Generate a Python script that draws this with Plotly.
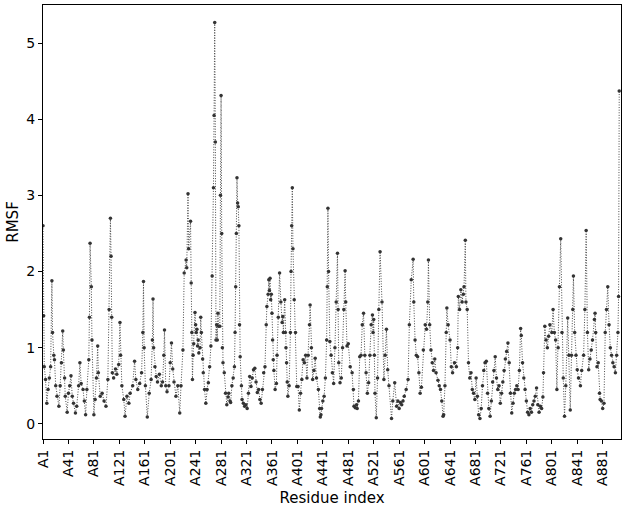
import plotly.graph_objects as go

# residue numbers and RMSF (chain A)
RESIDUE = [
    1, 2, 3, 5, 7, 9, 11, 13, 15, 16,
    18, 19, 21, 23, 26, 28, 30, 32, 33, 35,
    36, 39, 41, 43, 45, 47, 49, 52, 54, 57,
    59, 61, 64, 66, 68, 70, 73, 74, 75, 77,
    78, 81, 83, 85, 87, 88, 91, 94, 97, 100,
    103, 105, 107, 108, 109, 110, 112, 115, 117, 120,
    122, 123, 125, 128, 130, 133, 136, 138, 142, 145,
    147, 150, 153, 156, 158, 159, 160, 162, 165, 168,
    171, 173, 174, 175, 177, 179, 181, 184, 187, 189,
    191, 192, 194, 196, 199, 201, 203, 205, 207, 210,
    213, 216, 218, 221,
    223, 226, 227, 229, 230, 233, 234, 235, 236, 237,
    238, 240, 241, 242, 243, 244, 245, 246, 248, 249,
    250, 252, 253, 255, 257, 259, 261, 263, 265, 267,
    269, 270, 271, 272, 273, 274, 275, 276, 277, 279,
    280, 281, 282, 283, 284, 286, 288, 290, 292, 293,
    295, 296, 298, 300, 302, 303, 304, 305, 306, 307,
    308, 309, 310, 311, 313, 314, 316, 318, 320, 322,
    324, 326, 328, 330, 332, 334, 336, 338, 340, 342,
    344, 346, 348, 350, 352, 353, 355, 356, 357, 358,
    359, 360, 361, 362, 363, 364, 366, 368, 369, 371,
    373, 375, 377, 378, 379, 381, 382, 383, 384, 385,
    386, 388, 390, 391, 392, 393, 394, 396, 398, 400,
    402, 404, 406, 408, 410, 412, 414, 416, 418, 420,
    421, 423, 425, 427, 429, 431, 434, 436, 437, 438,
    439, 441, 443, 445, 447, 448, 449, 450,
    452, 454, 456, 458, 460, 462, 464, 465, 466, 468,
    470, 472, 474, 476, 477, 479, 481, 484, 487, 489,
    490, 492, 494, 495, 497, 499, 501, 503, 505, 507,
    509, 511, 513, 515, 517, 519, 520, 521, 522, 523,
    525, 527, 529, 531, 534, 537, 539, 541, 543, 545,
    549, 551, 554, 557, 559, 561, 563, 565, 567, 569,
    572, 575, 577, 580, 583, 584, 586, 588, 590, 592,
    594, 596, 599, 602, 604, 606, 607, 609, 611, 613,
    615, 617, 619, 622, 624, 626, 628, 630, 631, 633,
    635, 636, 638, 641, 643, 645, 648, 651, 653, 654,
    656, 658, 660, 662, 663, 665, 666, 668, 670, 672,
    674, 676, 678, 680,
    682, 684, 686, 688, 690, 692, 694, 696, 698, 700,
    702, 704, 706, 708, 710, 712, 714, 716, 718, 720,
    722, 724, 726, 728, 730, 732, 734, 736, 738, 740,
    742, 744, 746, 748, 750, 752, 753, 755, 757, 759,
    761, 763, 765, 767, 769, 771, 773, 775, 777, 779,
    781, 783, 785, 787, 788, 790, 792, 794, 796, 798,
    801, 803, 805, 807, 809, 811, 813, 815, 817, 819,
    821, 823, 826, 828, 830, 832, 834, 835, 837, 839,
    841, 843, 846, 848, 851, 853, 855, 857, 859, 861,
    863, 865, 868, 869, 870, 872, 874, 876, 877, 879,
    881, 883, 885, 887, 889, 891, 893, 895, 897, 899,
    901, 903, 905, 906, 907,
]

RMSF = [
    2.6, 1.42, 0.75, 0.58, 0.27, 0.45, 0.6, 0.75, 1.88, 1.2,
    0.9, 0.84, 0.5, 0.36, 0.23, 0.5, 0.8, 1.22, 0.97, 0.6,
    0.36, 0.15, 0.4, 0.5, 0.63, 0.36, 0.27, 0.14, 0.23, 0.5,
    0.8, 0.53, 0.45, 0.3, 0.12, 0.45, 0.84, 1.4, 2.37, 1.8,
    1.1, 0.12, 0.32, 0.6, 1.02, 0.67, 0.36, 0.4, 0.3, 0.23,
    0.58, 1.5, 2.7, 2.2, 1.4, 0.67, 0.6, 0.72, 0.65, 0.78,
    1.33, 0.9, 0.5, 0.32, 0.1, 0.36, 0.27, 0.4, 0.5, 0.82,
    0.58, 0.45, 0.53, 0.67, 1.2, 1.87, 1.0, 0.5, 0.09, 0.4,
    0.58, 1.1, 1.64, 1.0, 0.75, 0.62, 0.55, 0.65, 0.5, 0.55,
    0.9, 1.23, 0.5, 0.42, 0.5, 0.8, 1.06, 0.72, 0.55, 0.36,
    0.5, 0.14, 0.5, 0.97,
    1.98, 2.15, 2.05, 3.02, 2.3, 2.66, 1.85, 1.2, 0.58, 0.9,
    1.05, 1.46, 1.3, 1.2, 1.24, 1.02, 1.1, 0.93, 1.0, 1.4,
    1.2, 0.85, 0.67, 0.45, 0.27, 0.45, 0.54, 0.75, 1.02, 1.94,
    3.1, 4.05, 5.27, 3.7, 1.1, 1.3, 1.1, 1.45, 1.28, 1.28,
    3.0, 4.31, 2.5, 1.0, 0.8, 0.67, 0.4, 0.25, 0.35, 0.4,
    0.3, 0.28, 0.5, 0.6, 0.75, 1.2, 1.8, 2.5, 3.23, 2.9,
    2.85, 2.6, 1.3, 0.88, 0.5, 0.32, 0.27, 0.23, 0.25, 0.2,
    0.4, 0.62, 0.49, 0.6, 0.71, 0.73, 0.55, 0.41, 0.45, 0.32,
    0.27, 0.45, 0.67, 0.75, 1.3, 1.54, 1.7, 1.89, 1.75, 1.91,
    1.63, 1.7, 1.45, 1.1, 0.84, 0.7, 0.45, 0.53, 0.9, 1.4,
    1.98, 1.6, 1.33, 1.41, 1.2, 1.63, 1.2, 1.0, 0.8, 0.55,
    0.36, 0.5, 1.2, 2.0, 2.6, 3.1, 2.3, 1.63, 1.2, 0.49,
    0.49, 0.18, 0.4, 0.58, 0.84, 0.8, 0.9, 0.6, 0.9, 1.3,
    1.56, 1.0, 0.58, 0.7, 0.86, 0.6, 0.45, 0.2, 0.09, 0.12,
    0.2, 0.3, 0.36, 0.6, 1.1, 1.8, 2.83, 2.0,
    1.08, 0.9, 0.67, 0.53, 1.0, 1.6, 2.24, 1.5, 0.8, 0.54,
    0.6, 1.0, 1.5, 2.01, 1.6, 1.02, 1.05, 0.75, 0.67, 0.45,
    0.23, 0.21, 0.25, 0.2, 0.3, 0.88, 0.9, 1.3, 1.45, 0.9,
    0.67, 0.4, 0.54, 0.9, 1.3, 1.43, 1.2, 1.37, 0.9, 0.4,
    0.08, 0.6, 1.5, 2.26, 1.6, 0.58, 0.9, 1.24, 0.71, 0.5,
    0.07, 0.3, 0.54, 0.23, 0.3, 0.2, 0.28, 0.25, 0.3, 0.36,
    0.45, 0.58, 1.3, 1.89, 2.16, 1.6, 1.1, 0.9, 0.88, 0.67,
    0.4, 0.48, 0.97, 1.3, 1.24, 1.6, 2.15, 1.3, 0.97, 0.8,
    0.7, 0.85, 0.67, 0.57, 0.5, 0.45, 0.3, 0.1, 0.12, 0.5,
    1.2, 1.52, 1.3, 1.1, 0.75, 0.67, 0.8, 0.75, 1.0, 1.67,
    1.5, 1.76, 1.6, 1.7, 1.8, 2.41, 1.6, 1.5, 0.8, 0.6,
    0.67, 0.45, 0.4, 0.32,
    0.6, 0.36, 0.12, 0.07, 0.2, 0.5, 0.7, 0.8, 0.82, 0.4,
    0.2, 0.1, 0.3, 0.55, 0.7, 0.88, 0.6, 0.45, 0.5, 0.27,
    0.4, 0.55, 0.7, 0.85, 0.95, 1.06, 0.8, 0.4, 0.14, 0.27,
    0.4, 0.45, 0.5, 0.45, 0.7, 1.25, 1.16, 0.8, 0.6, 0.45,
    0.3, 0.15, 0.12, 0.2, 0.15, 0.25, 0.3, 0.36, 0.47, 0.25,
    0.15, 0.23, 0.2, 0.35, 0.67, 1.28, 1.1, 1.0, 1.15, 1.3,
    1.2, 1.5, 1.2, 1.1, 0.45, 1.0, 1.8, 2.43, 1.2, 0.6,
    0.1, 0.5, 1.39, 0.9, 0.18, 0.9, 1.5, 1.94, 1.2, 0.9,
    0.71, 0.6, 0.5, 0.7, 0.9, 1.5, 2.54, 1.2, 0.71, 0.85,
    0.97, 1.1, 1.37, 1.45, 1.2, 0.75, 0.8, 0.4, 0.32, 0.3,
    0.2, 0.27, 1.2, 1.5, 1.8, 1.3, 1.0, 0.9, 0.8, 0.75,
    0.67, 0.9, 1.2, 1.67, 4.37,
]

TICK_RESIDUES = list(range(1, 882, 40))
TICK_LABELS = ["A%d" % r for r in TICK_RESIDUES]

assert len(RESIDUE) == len(RMSF), (len(RESIDUE), len(RMSF))

fig = go.Figure(go.Scatter(
    x=RESIDUE,
    y=RMSF,
    mode="lines+markers",
    line=dict(color="#4a4a4a", width=1, dash="1px,1.6px"),
    marker=dict(size=3.5, color="#333333"),
    hoverinfo="skip",
))

axis_style = dict(
    showline=True, linecolor="black", linewidth=1, mirror=True,
    ticks="outside", ticklen=4, tickcolor="black",
    showgrid=False, zeroline=False, automargin=False,
    tickfont=dict(size=14, color="black"),
)

fig.update_layout(
    width=625, height=514,
    margin=dict(l=43, r=4, t=5, b=75),
    paper_bgcolor="white", plot_bgcolor="white",
    font=dict(family="DejaVu Sans", color="black"),
    showlegend=False,
    xaxis=dict(
        range=[1, 909.8],
        tickmode="array", tickvals=TICK_RESIDUES, ticktext=TICK_LABELS,
        tickangle=-90,
        title=dict(text="Residue index", font=dict(size=15), standoff=7),
        **axis_style,
    ),
    yaxis=dict(
        range=[-0.2, 5.5],
        tickmode="array", tickvals=[0, 1, 2, 3, 4, 5],
        title=dict(text="RMSF", font=dict(size=15), standoff=4),
        **axis_style,
    ),
)

# the page's default body margin would shift the figure by 8px
fig.write_html(
    "out.html",
    config={"displayModeBar": False},
    post_script="document.body.style.margin='0';",
)
